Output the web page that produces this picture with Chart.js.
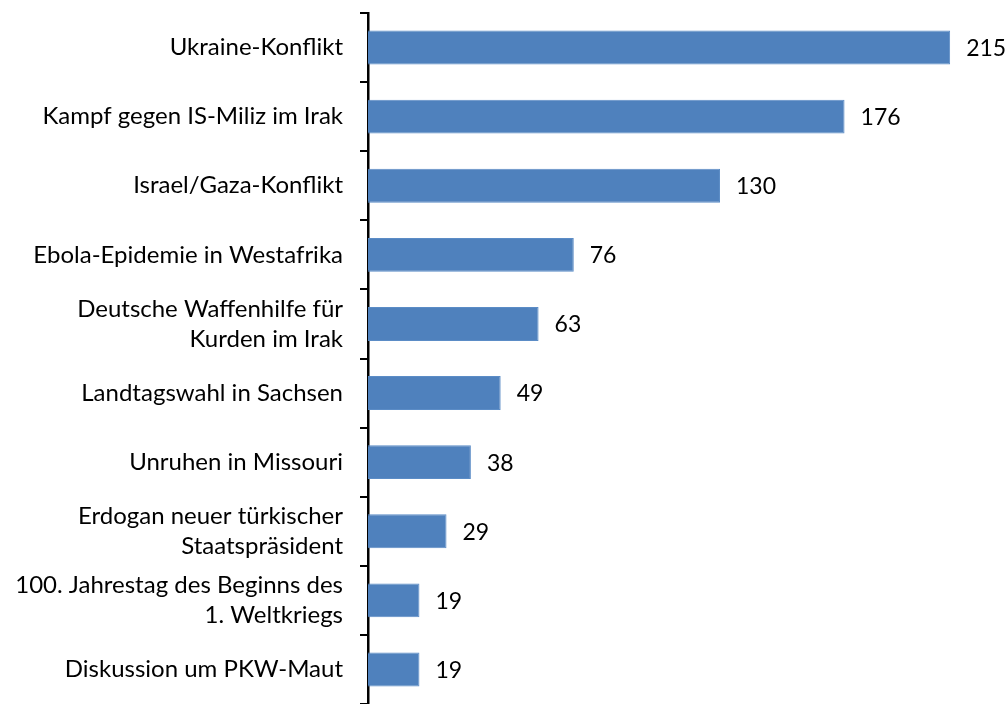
<!DOCTYPE html>
<html>
<head>
<meta charset="utf-8">
<script src="https://cdn.jsdelivr.net/npm/chart.js@4"></script>
<style>
html,body{margin:0;padding:0;background:#fff;}
#wrap{width:1008px;height:704px;position:relative;}
</style>
</head>
<body>
<div id="wrap"><canvas id="c"></canvas></div>
<script>
const categories = [
  "Ukraine-Konflikt",
  "Kampf gegen IS-Miliz im Irak",
  "Israel/Gaza-Konflikt",
  "Ebola-Epidemie in Westafrika",
  ["Deutsche Waffenhilfe für", "Kurden im Irak"],
  "Landtagswahl in Sachsen",
  "Unruhen in Missouri",
  ["Erdogan neuer türkischer", "Staatspräsident"],
  ["100. Jahrestag des Beginns des", "1. Weltkriegs"],
  "Diskussion um PKW-Maut"
];
const values = [215, 176, 130, 76, 63, 49, 38, 29, 19, 19];

const FONT = "Lato, sans-serif";

const valueLabels = {
  id: 'valueLabels',
  afterDatasetsDraw(chart) {
    const ctx = chart.ctx;
    const meta = chart.getDatasetMeta(0);
    ctx.save();
    ctx.font = "23px " + FONT;
    ctx.fillStyle = "#000";
    ctx.textAlign = "left";
    ctx.textBaseline = "middle";
    meta.data.forEach((bar, i) => {
      ctx.fillText(String(values[i]), bar.x + 16, bar.y + 1);
    });
    ctx.restore();
  }
};

new Chart(document.getElementById('c'), {
  type: 'bar',
  data: {
    labels: categories,
    datasets: [{
      data: values,
      backgroundColor: '#4F81BD',
      borderColor: '#5B8CC6',
      borderWidth: 1,
      barPercentage: 0.98,
      categoryPercentage: 0.5
    }]
  },
  options: {
    indexAxis: 'y',
    responsive: true,
    maintainAspectRatio: false,
    animation: false,
    layout: { padding: { top: 13, left: 0, right: 1, bottom: -1 } },
    plugins: { legend: { display: false }, tooltip: { enabled: false } },
    scales: {
      x: {
        display: false,
        min: 0,
        max: 236
      },
      y: {
        afterFit(scale) {
          scale.width = 368;
          scale.paddingTop = 0;
          scale.paddingBottom = 0;
        },
        border: { display: true, color: '#000', width: 2.5 },
        grid: {
          display: true,
          drawOnChartArea: false,
          color: '#000',
          lineWidth: 2,
          tickLength: 8,
          offset: true
        },
        ticks: {
          color: '#000',
          padding: 17,
          font: { family: FONT, size: 24, lineHeight: 1.25 }
        }
      }
    }
  },
  plugins: [valueLabels]
});
</script>
</body>
</html>
